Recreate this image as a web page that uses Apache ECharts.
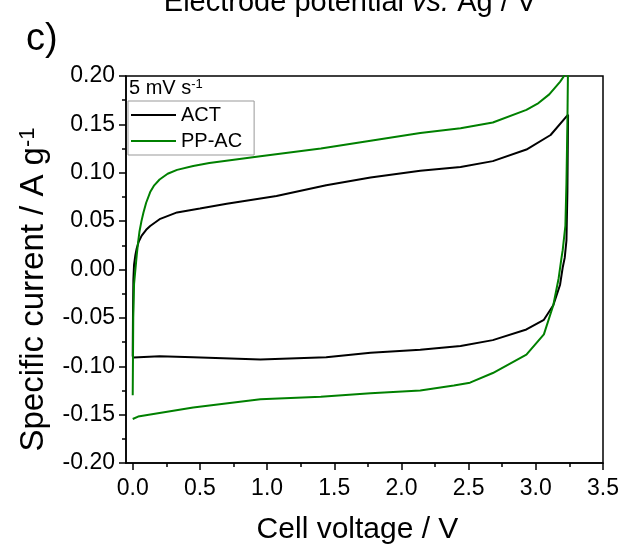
<!DOCTYPE html>
<html>
<head>
<meta charset="utf-8">
<script src="https://cdn.jsdelivr.net/npm/echarts@6/dist/echarts.min.js"></script>
<style>
  html, body { margin: 0; padding: 0; background: #fff; }
  #chart { width: 629px; height: 550px; }
</style>
</head>
<body>
<div id="chart"></div>
<script>
// ACT cell: forward scan to 3.24 V then back to 0 V
const actVoltage = [0.000, 0.002, 0.005, 0.010, 0.020, 0.030, 0.045, 0.067, 0.10, 0.13, 0.20, 0.33, 0.50, 0.70, 1.07, 1.44, 1.77, 2.14, 2.44, 2.68, 2.93, 3.11, 3.24,
  3.235, 3.228, 3.215, 3.20, 3.18, 3.13, 3.06, 2.93, 2.68, 2.44, 2.14, 1.77, 1.44, 0.95, 0.45, 0.20, 0.005]
const actCurrent = [-0.090, -0.047, -0.010, 0.005, 0.015, 0.022, 0.029, 0.035, 0.041, 0.045, 0.052, 0.059, 0.063, 0.068, 0.076, 0.087, 0.095, 0.102, 0.106, 0.112, 0.124, 0.139, 0.160,
  0.080, 0.030, 0.012, 0.002, -0.016, -0.037, -0.052, -0.062, -0.073, -0.079, -0.083, -0.086, -0.0906, -0.093, -0.0906, -0.0896, -0.091]

// PP-AC cell
const ppacVoltage = [0.000, 0.004, 0.010, 0.020, 0.030, 0.040, 0.050, 0.065, 0.08, 0.10, 0.13, 0.16, 0.20, 0.26, 0.33, 0.45, 0.57, 0.95, 1.40, 1.77, 2.14, 2.44, 2.68, 2.93, 3.02, 3.10, 3.18, 3.21, 3.24,
  3.235, 3.228, 3.22, 3.20, 3.19, 3.17, 3.13, 3.06, 2.93, 2.68, 2.51, 2.39, 2.14, 1.77, 1.40, 0.95, 0.45, 0.04, 0.000]
const ppacCurrent = [-0.130, -0.050, -0.015, 0.000, 0.015, 0.028, 0.039, 0.050, 0.059, 0.069, 0.080, 0.087, 0.093, 0.099, 0.103, 0.107, 0.110, 0.117, 0.125, 0.133, 0.141, 0.146, 0.152, 0.165, 0.172, 0.181, 0.194, 0.200, 0.215,
  0.150, 0.090, 0.045, 0.020, 0.011, -0.009, -0.037, -0.067, -0.088, -0.107, -0.117, -0.120, -0.125, -0.128, -0.1316, -0.134, -0.1426, -0.152, -0.1545]

const xTicks = [0, 0.5, 1.0, 1.5, 2.0, 2.5, 3.0, 3.5]
const xMinorTicks = [0.25, 0.75, 1.25, 1.75, 2.25, 2.75, 3.25]

function zip(xs, ys) {
  return xs.map((x, i) => [x, ys[i]])
}

const chart = echarts.init(document.getElementById('chart'))
const font = 'Arial, "Liberation Sans", sans-serif'
const lineIcon = 'path://M0,0L45,0L45,2L0,2Z'

chart.setOption({
  backgroundColor: '#fff',
  textStyle: { fontFamily: font },
  animation: false,
  grid: {
    left: 126,
    right: 26,
    top: 76,
    bottom: 84,
    show: true,
    borderColor: '#000',
    borderWidth: 1.5
  },
  legend: {
    data: [{ name: 'ACT', icon: lineIcon }, { name: 'PP-AC', icon: lineIcon }],
    orient: 'vertical',
    left: 128,
    top: 101,
    padding: [3, 12, 3, 3],
    itemGap: 4,
    itemWidth: 45,
    itemHeight: 2,
    borderColor: '#999',
    borderWidth: 1,
    backgroundColor: '#fff',
    textStyle: { fontSize: 20, color: '#000', fontFamily: font, lineHeight: 22 }
  },
  graphic: [
    {
      type: 'text',
      left: 26,
      top: 21,
      style: { text: 'c)', fontSize: 38, fill: '#000', fontFamily: font }
    },
    {
      type: 'text',
      x: 350,
      y: 17,
      style: {
        text: 'Electrode potential {it|vs.} Ag / V',
        align: 'center',
        verticalAlign: 'bottom',
        fontSize: 29,
        fill: '#000',
        fontFamily: font,
        rich: { it: { fontStyle: 'italic', fontSize: 29, fontFamily: font } }
      }
    },
    {
      type: 'text',
      left: 129,
      top: 78,
      style: {
        text: '5 mV s{sup|-1}',
        fontSize: 20,
        fill: '#000',
        fontFamily: font,
        rich: { sup: { fontSize: 13, verticalAlign: 'top', fontFamily: font } }
      }
    }
  ],
  xAxis: [
    {
      type: 'value',
      min: -0.05,
      max: 3.5,
      name: 'Cell voltage / V',
      nameLocation: 'middle',
      nameGap: 52,
      nameTextStyle: { fontSize: 30, color: '#000', fontFamily: font, padding: [0, 14, 0, 0] },
      axisLine: { show: true, onZero: false, lineStyle: { color: '#000', width: 1.5 } },
      axisTick: { show: true, customValues: xTicks, length: 7, lineStyle: { color: '#000', width: 1.5 } },
      axisLabel: {
        customValues: xTicks,
        fontSize: 23,
        color: '#000',
        margin: 14,
        formatter: v => v.toFixed(1)
      },
      splitLine: { show: false }
    },
    {
      type: 'value',
      min: -0.05,
      max: 3.5,
      position: 'bottom',
      offset: 0,
      axisLine: { show: false, onZero: false },
      axisTick: { show: true, customValues: xMinorTicks, length: 4, lineStyle: { color: '#000', width: 1.5 } },
      axisLabel: { show: false },
      splitLine: { show: false }
    }
  ],
  yAxis: {
    type: 'value',
    min: -0.2,
    max: 0.2,
    interval: 0.05,
    name: 'Specific current / A g{sup|-1}',
    nameLocation: 'middle',
    nameRotate: 90,
    nameGap: 76,
    nameTextStyle: {
      fontSize: 33,
      color: '#000',
      fontFamily: font,
      padding: [0, 40, 0, 0],
      rich: { sup: { fontSize: 22, verticalAlign: 'top', fontFamily: font } }
    },
    axisLine: { show: true, onZero: false, lineStyle: { color: '#000', width: 1.5 } },
    axisTick: { show: true, length: 7, lineStyle: { color: '#000', width: 1.5 } },
    minorTick: { show: true, splitNumber: 2, length: 4, lineStyle: { color: '#000', width: 1.5 } },
    axisLabel: {
      fontSize: 23,
      color: '#000',
      margin: 11,
      formatter: v => v.toFixed(2)
    },
    splitLine: { show: false }
  },
  series: [
    {
      name: 'ACT',
      type: 'line',
      data: zip(actVoltage, actCurrent),
      showSymbol: false,
      symbol: 'none',
      clip: true,
      lineStyle: { color: '#000', width: 2 },
      itemStyle: { color: '#000' }
    },
    {
      name: 'PP-AC',
      type: 'line',
      data: zip(ppacVoltage, ppacCurrent),
      showSymbol: false,
      symbol: 'none',
      clip: true,
      lineStyle: { color: '#008000', width: 2 },
      itemStyle: { color: '#008000' }
    }
  ]
})
</script>
</body>
</html>
